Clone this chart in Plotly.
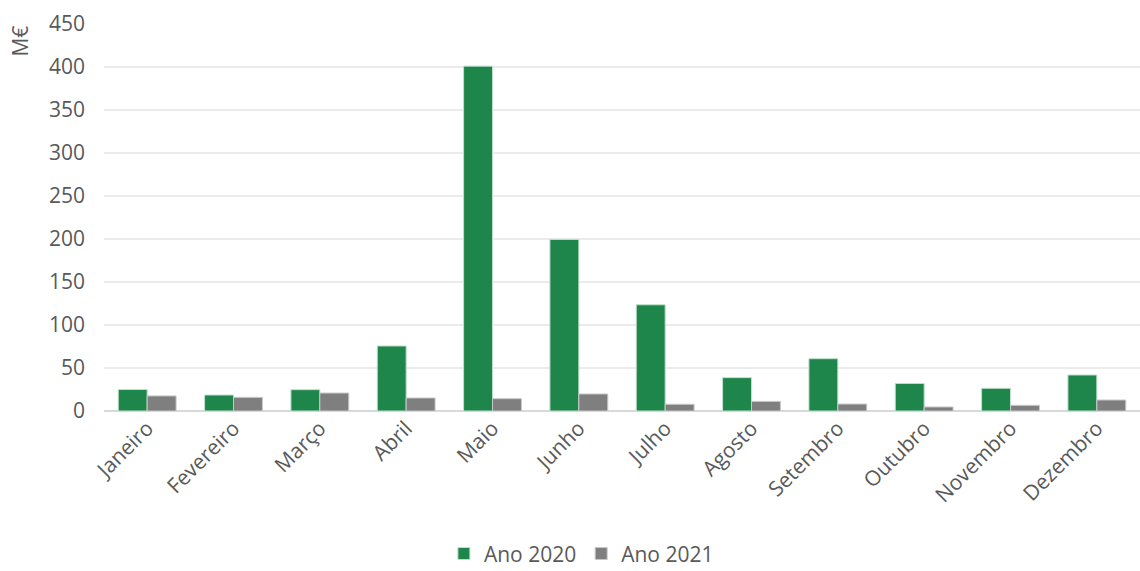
import plotly.graph_objects as go

months = ["Janeiro", "Fevereiro", "Março", "Abril", "Maio", "Junho", "Julho",
          "Agosto", "Setembro", "Outubro", "Novembro", "Dezembro"]
ano_2020 = [25, 18.6, 24.8, 75.6, 401, 199.5, 123.5, 38.8, 60.8, 32, 26.4, 41.9]
ano_2021 = [17.5, 15.9, 20.9, 15.1, 14.3, 19.8, 7.8, 11.2, 8.1, 4.7, 6.6, 12.8]

FONT = "Open Sans"
TXT = "#595959"
FS = 21

fig = go.Figure()
fig.add_bar(x=months, y=ano_2020, name="Ano 2020", marker_color="#1E864A",
            marker_line=dict(color="#BFE0CC", width=1))
fig.add_bar(x=months, y=ano_2021, name="Ano 2021", marker_color="#7F7F7F",
            marker_line=dict(color="#C8C8C8", width=1))

fig.update_layout(
    width=1140, height=571,
    margin=dict(l=104, r=0, t=24, b=160, autoexpand=False),
    paper_bgcolor="white", plot_bgcolor="white",
    barmode="group", bargap=0.33, bargroupgap=0,
    font=dict(family=FONT, size=FS, color=TXT),
    showlegend=True,
    legend=dict(orientation="h", x=0.51, xanchor="center", xref="container",
                y=0.03, yanchor="middle", yref="container",
                font=dict(size=FS, color=TXT), itemwidth=30, tracegroupgap=0),
    xaxis=dict(tickangle=-45, showgrid=False, ticks="", showline=False, automargin=False,
               tickfont=dict(size=FS, color=TXT)),
    yaxis=dict(range=[0, 450], dtick=50, showgrid=True, gridcolor="#EBEBEB", gridwidth=2,
               zeroline=True, zerolinecolor="#D9D9D9", zerolinewidth=2, automargin=False,
               ticks="", tickfont=dict(size=FS, color=TXT), ticklabelstandoff=18),
    annotations=[dict(text="M€", textangle=-90, xref="paper", yref="paper",
                      x=-0.082, y=1.0, xanchor="center", yanchor="top",
                      showarrow=False, font=dict(size=FS, color=TXT))],
)

fig.write_html("out.html")
